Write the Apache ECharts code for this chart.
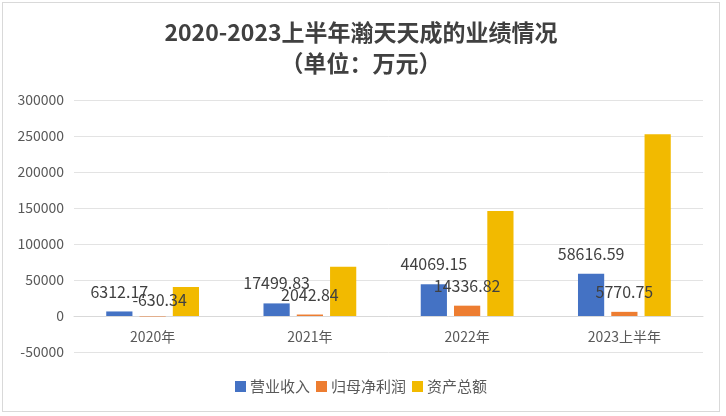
<!DOCTYPE html>
<html><head><meta charset="utf-8">
<script src="https://cdn.jsdelivr.net/npm/echarts@6/dist/echarts.min.js"></script>
<style>
html,body{margin:0;padding:0;background:#fff;}
#c{position:absolute;left:2px;top:2px;width:718px;height:410px;border:1px solid #d9d9d9;box-sizing:border-box;}
</style></head><body>
<div id="c"></div>
<script>
const categories = ['2020年', '2021年', '2022年', '2023上半年'];
const revenue = [6312.17, 17499.83, 44069.15, 58616.59];
const netProfit = [-630.34, 2042.84, 14336.82, 5770.75];
const totalAssets = [40300, 68500, 146000, 252500];
const seriesNames = ['营业收入', '归母净利润', '资产总额'];
const yTicks = {min: -50000, max: 300000, interval: 50000};

const chart = echarts.init(document.getElementById('c'));
const font = "'Microsoft YaHei','Noto Sans CJK SC',sans-serif";
const lbl = {show: true, position: 'top', distance: 12, fontSize: 16, color: '#404040', fontFamily: font};
chart.setOption({
  animation: false,
  title: {
    text: '2020-2023上半年瀚天天成的业绩情况\n（单位：万元）',
    left: 'center', top: 9,
    textStyle: {fontSize: 23, fontWeight: 'bold', color: '#404040', lineHeight: 31, fontFamily: font}
  },
  legend: {
    data: seriesNames, top: 371, left: 'center', itemWidth: 11, itemHeight: 11, itemGap: 6, icon: 'rect',
    textStyle: {fontSize: 15, color: '#595959', fontFamily: font, padding: [0, 0, 0, -1]}
  },
  grid: {left: 71, right: 16, top: 97, bottom: 59},
  xAxis: {
    type: 'category', data: categories,
    axisLine: {lineStyle: {color: '#d9d9d9'}}, axisTick: {show: false},
    axisLabel: {fontSize: 14, color: '#595959', margin: -22, fontFamily: font}
  },
  yAxis: {
    type: 'value', min: yTicks.min, max: yTicks.max, interval: yTicks.interval,
    axisLine: {show: false}, axisTick: {show: false},
    axisLabel: {fontSize: 14, color: '#595959', margin: 10, fontFamily: font, formatter: v => String(v)},
    splitLine: {lineStyle: {color: '#e3e3e3'}}
  },
  series: [
    {name: seriesNames[0], type: 'bar', data: revenue, itemStyle: {color: '#4472C4'}, barGap: '27%', barCategoryGap: '41%', label: lbl},
    {name: seriesNames[1], type: 'bar', data: netProfit.map((v, i) => i === 0 ? {value: v, label: {offset: [7, 4]}} : v), itemStyle: {color: '#ED7D31'}, label: lbl},
    {name: seriesNames[2], type: 'bar', data: totalAssets, itemStyle: {color: '#F2BA00'}}
  ]
});
</script></body></html>
